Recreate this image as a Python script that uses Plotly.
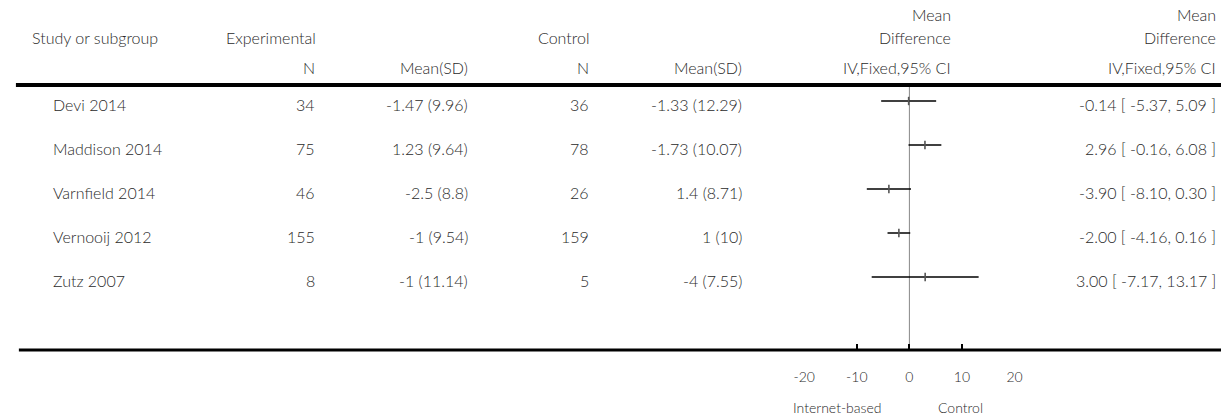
import plotly.graph_objects as go

W, H = 1229, 416

studies = ["Devi 2014", "Maddison 2014", "Varnfield 2014", "Vernooij 2012", "Zutz 2007"]
exp_n = [34, 75, 46, 155, 8]
exp_mean = [-1.47, 1.23, -2.5, -1, -1]
exp_sd = [9.96, 9.64, 8.8, 9.54, 11.14]
ctl_n = [36, 78, 26, 159, 5]
ctl_mean = [-1.33, -1.73, 1.4, 1, -4]
ctl_sd = [12.29, 10.07, 8.71, 10, 7.55]
md = [-0.14, 2.96, -3.90, -2.00, 3.00]
md_lo = [-5.37, -0.16, -8.10, -4.16, -7.17]
md_hi = [5.09, 6.08, 0.30, 0.16, 13.17]
tick_vals = [-20, -10, 0, 10, 20]
tick_text = ["-20", "-10", "0", "10", "20"]

FONT = "Lato"
COL = "#2a2a2a"
FS = 16
WT = 300


def px(x):
    return x / W


def py(y):
    return 1 - y / H


rows = list(range(len(studies)))
ROW0, ROWSTEP = 101, 44
TOP, BOT = 85, 350
y_top = (TOP - ROW0) / ROWSTEP
y_bot = (BOT - ROW0) / ROWSTEP

fig = go.Figure()

# CI lines
for i in rows:
    fig.add_trace(go.Scatter(
        x=[md_lo[i], md_hi[i]], y=[i, i], mode="lines",
        line=dict(color="black", width=1.3), hoverinfo="skip", showlegend=False,
        cliponaxis=False))
fig.add_trace(go.Scatter(
    x=md, y=rows, mode="markers",
    marker=dict(symbol="line-ns", size=6, line=dict(color="#555555", width=1.6)),
    showlegend=False, cliponaxis=False))

ann = []


def add(text, x, y, xanchor="left", size=FS):
    ann.append(dict(text=text, x=px(x), y=py(y), xref="paper", yref="paper",
                    xanchor=xanchor, yanchor="middle", showarrow=False,
                    font=dict(family=FONT, size=size, color=COL, weight=WT)))


# headers
add("Study or subgroup", 19, 37)
add("Experimental", 216, 37)
add("N", 311, 68, "right")
add("Mean(SD)", 466, 68, "right")
add("Control", 589, 37, "right")
add("N", 589, 68, "right")
add("Mean(SD)", 745, 68, "right")
add("Mean", 957, 15, "right")
add("Difference", 957, 37, "right")
add("IV,Fixed,95% CI", 957, 68, "right")
add("Mean", 1226, 15, "right")
add("Difference", 1226, 37, "right")
add("IV,Fixed,95% CI", 1226, 68, "right")

for i in rows:
    yy = ROW0 + ROWSTEP * i + 3
    add(studies[i], 41, yy)
    add(str(exp_n[i]), 311, yy, "right")
    add(f"{exp_mean[i]:g} ({exp_sd[i]:g})", 466, yy, "right")
    add(str(ctl_n[i]), 589, yy, "right")
    add(f"{ctl_mean[i]:g} ({ctl_sd[i]:g})", 745, yy, "right")
    add(f"{md[i]:.2f} [ {md_lo[i]:.2f}, {md_hi[i]:.2f} ]", 1226, yy, "right")

add("Internet-based", 839.5, 407, "center", 14)
add("Control", 964, 407, "center", 14)

shapes = [
    dict(type="line", xref="paper", yref="paper", x0=px(5), x1=1, y0=py(TOP), y1=py(TOP),
         line=dict(color="black", width=4)),
    dict(type="line", xref="paper", yref="paper", x0=px(8), x1=1, y0=py(BOT), y1=py(BOT),
         line=dict(color="black", width=3)),
    dict(type="line", xref="x", yref="paper", x0=0, x1=0, y0=py(BOT), y1=py(TOP),
         line=dict(color="#888888", width=1), layer="below"),
]

fig.update_layout(
    width=W, height=H, margin=dict(l=0, r=0, t=0, b=0),
    paper_bgcolor="white", plot_bgcolor="white",
    annotations=ann, shapes=shapes, showlegend=False,
    xaxis=dict(domain=[px(805.7), px(1019.3)], range=[-20, 20], showgrid=False,
               zeroline=False, showline=False, ticks="inside", ticklen=6, tickwidth=2,
               tickcolor="black", tickvals=tick_vals, ticktext=tick_text,
               tickfont=dict(family=FONT, size=14, color=COL, weight=WT),
               ticklabelstandoff=17, fixedrange=True),
    yaxis=dict(domain=[py(BOT), py(TOP)], range=[y_bot, y_top], visible=False,
               fixedrange=True),
)

fig.write_html(
    "out.html",
    config={"displayModeBar": False},
    post_script="document.body.style.margin='0';document.body.style.overflow='hidden';",
)
